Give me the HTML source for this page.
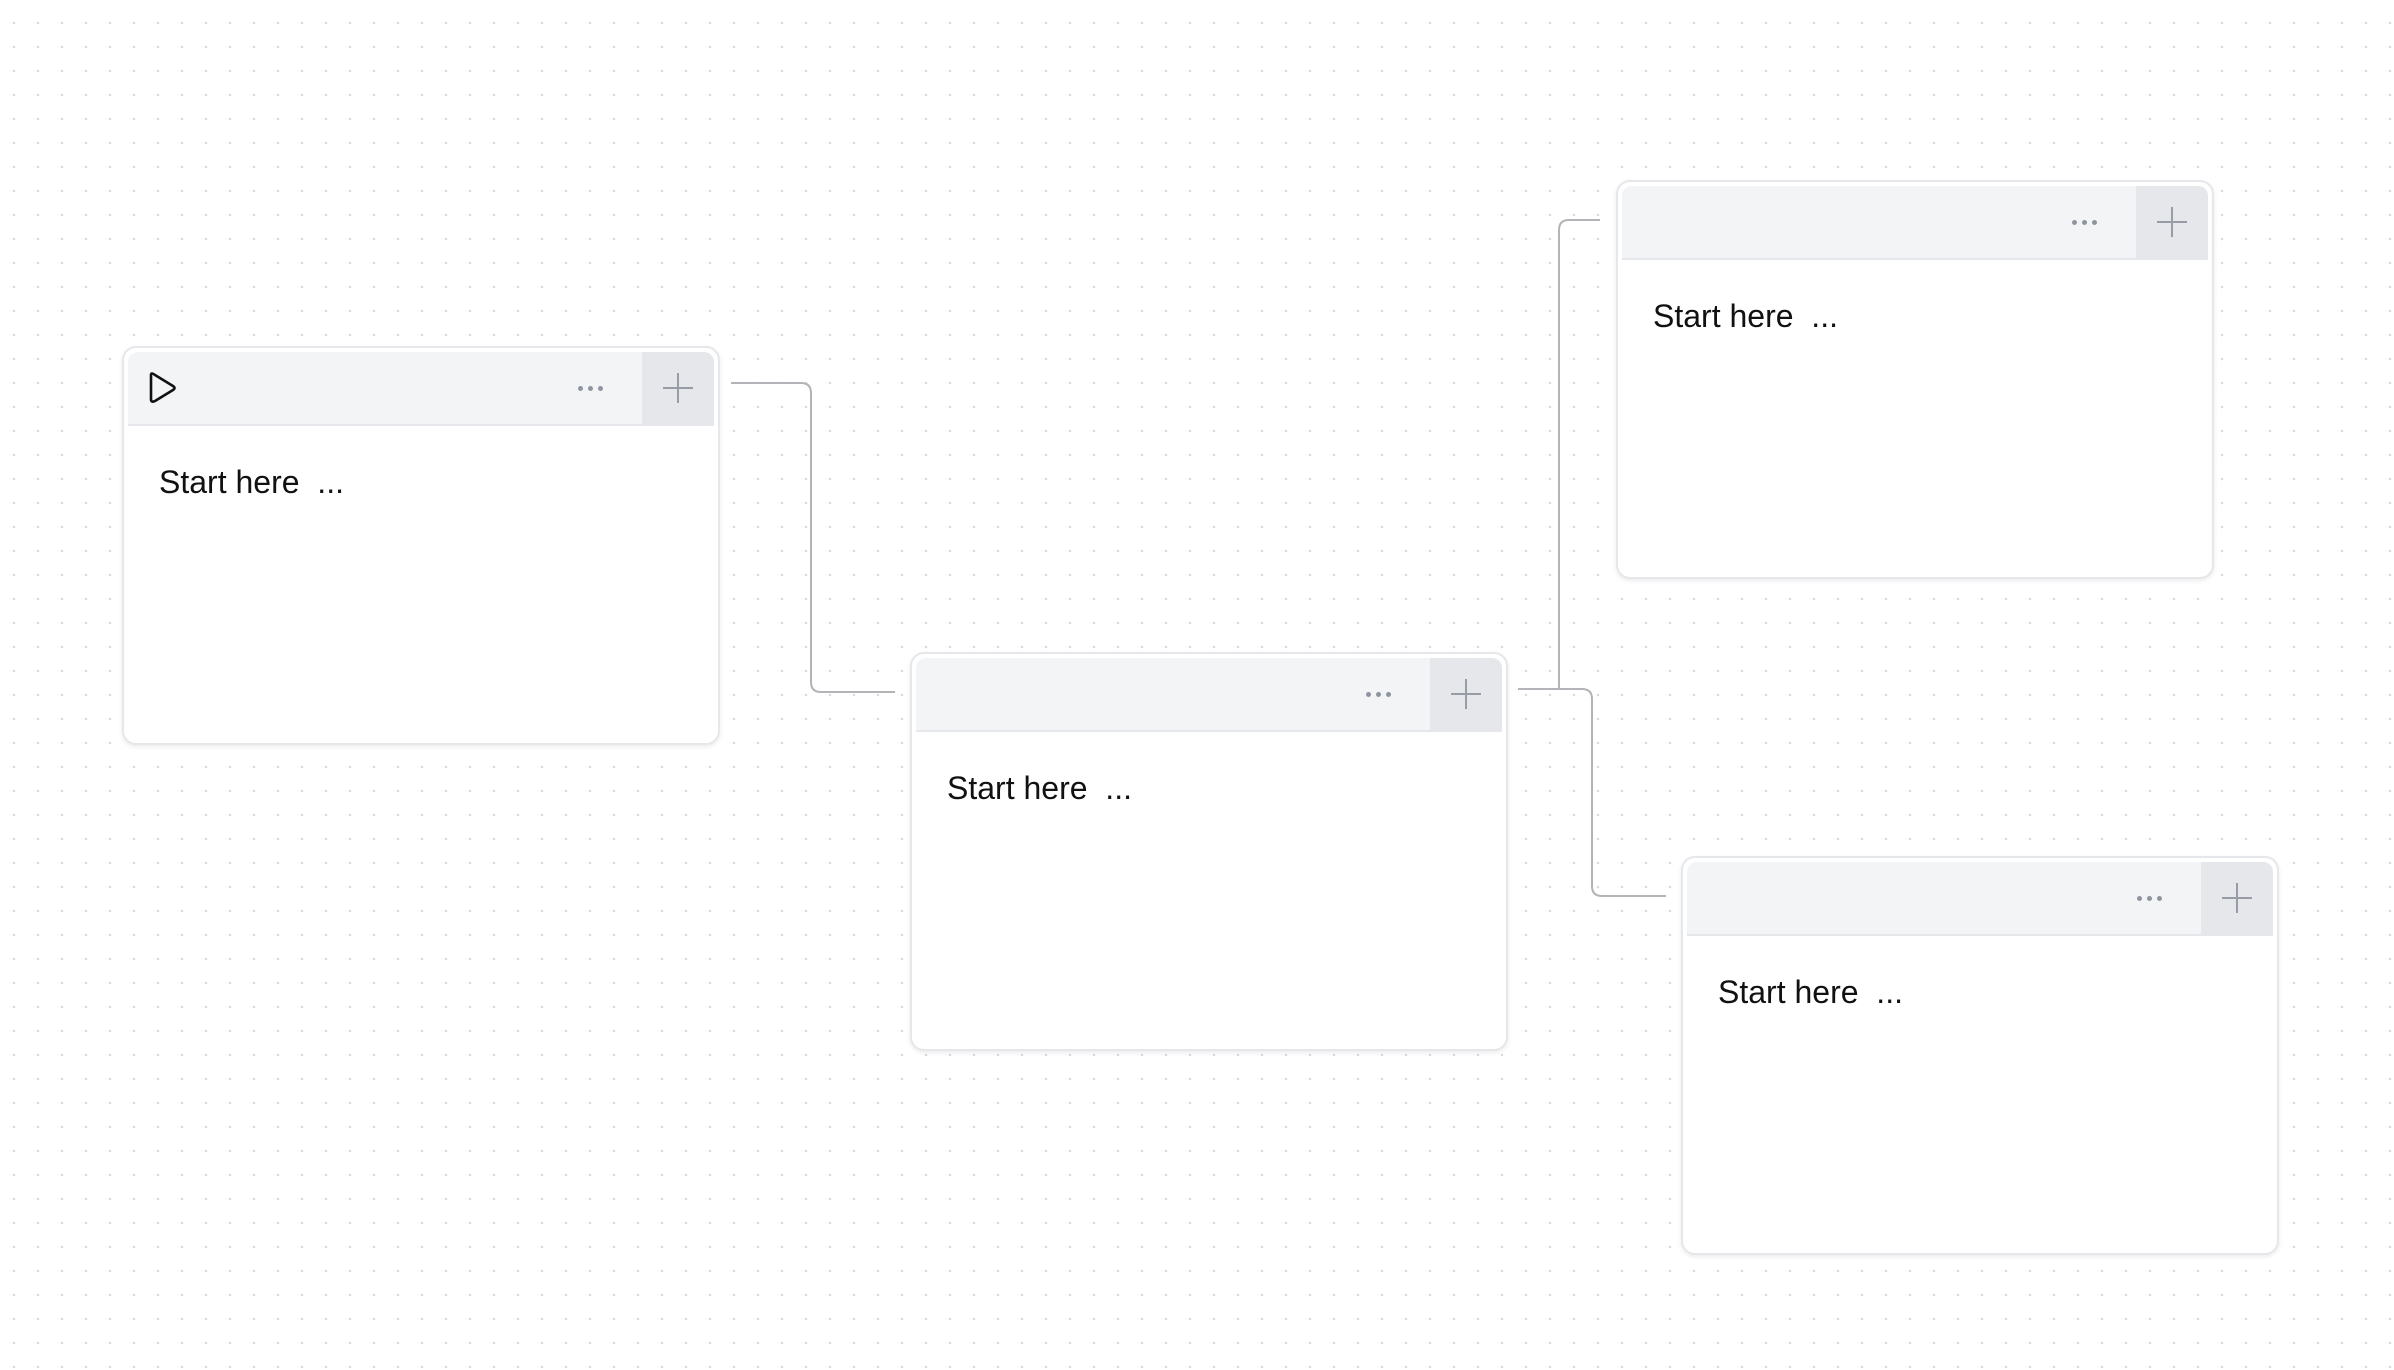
<!DOCTYPE html>
<html><head><meta charset="utf-8"><style>
html,body{margin:0;padding:0}
body{width:2394px;height:1370px;position:relative;overflow:hidden;background-color:#fff;
background-image:radial-gradient(circle,#d9d9d9 1.1px,transparent 1.4px);background-size:24px 24px;background-position:2px 11px;
font-family:"Liberation Sans",Arial,sans-serif}
.node{position:absolute;width:594px;height:395px;background:#fff;border:2px solid #e5e7eb;border-radius:14px;box-shadow:0 2px 5px rgba(0,0,0,0.08)}
.hdr{position:absolute;left:4px;top:4px;right:4px;height:72px;background:#f3f4f6;border-bottom:2px solid #e5e7eb;border-radius:10px 10px 0 0;overflow:hidden}
.plus{position:absolute;right:0;top:0;width:72px;height:72px;background:#e5e7eb}
.plus:before{content:"";position:absolute;left:21px;top:35px;width:30px;height:2px;background:#979ca6}
.plus:after{content:"";position:absolute;left:35px;top:21px;width:2px;height:30px;background:#979ca6}
.dots{position:absolute;right:110px;top:34px;width:26px;height:5px}
.dots i{position:absolute;top:0;width:5px;height:5px;border-radius:50%;background:#8f95a0}
.txt{position:absolute;left:35px;top:116px;font-size:32px;color:#111;white-space:pre}
svg{position:absolute;left:0;top:0}
</style></head><body>
<svg width="2394" height="1370">
<g fill="none" stroke="#b3b3b8" stroke-width="2">
<path d="M731 383 H801 Q811 383 811 393 V682 Q811 692 821 692 H895"/>
<path d="M1518 689 H1559 V230 Q1559 220 1569 220 H1600"/>
<path d="M1518 689 H1582 Q1592 689 1592 699 V886 Q1592 896 1602 896 H1666"/>
</g>
</svg>

<div class="node" style="left:122px;top:346px">
<div class="hdr"><svg width="40" height="40" style="left:18px;top:19px"><path d="M5 4 L5 28 Q5 32 9 30 L27 19 Q30 17 27 15 L9 4 Q5 1 5 4 Z" fill="none" stroke="#111" stroke-width="2.6" stroke-linejoin="round"/></svg>
<div class="dots"><i style="left:0"></i><i style="left:10px"></i><i style="left:20px"></i></div><div class="plus"></div></div>
<div class="txt">Start here  ...</div>
</div>

<div class="node" style="left:910px;top:652px">
<div class="hdr"><div class="dots"><i style="left:0"></i><i style="left:10px"></i><i style="left:20px"></i></div><div class="plus"></div></div>
<div class="txt">Start here  ...</div>
</div>

<div class="node" style="left:1616px;top:180px">
<div class="hdr"><div class="dots"><i style="left:0"></i><i style="left:10px"></i><i style="left:20px"></i></div><div class="plus"></div></div>
<div class="txt">Start here  ...</div>
</div>

<div class="node" style="left:1681px;top:856px">
<div class="hdr"><div class="dots"><i style="left:0"></i><i style="left:10px"></i><i style="left:20px"></i></div><div class="plus"></div></div>
<div class="txt">Start here  ...</div>
</div>
</body></html>
